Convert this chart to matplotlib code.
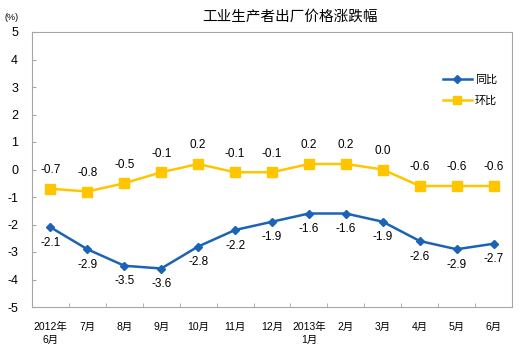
import matplotlib
matplotlib.use('Agg')
import matplotlib.pyplot as plt
import numpy as np

plt.rcParams['font.family'] = ['Liberation Sans', 'Noto Sans CJK SC']

# données
mois = ['2012年\n6月', '7月', '8月', '9月', '10月', '11月', '12月',
        '2013年\n1月', '2月', '3月', '4月', '5月', '6月']
tongbi = [-2.1, -2.9, -3.5, -3.6, -2.8, -2.2, -1.9, -1.6, -1.6, -1.9, -2.6, -2.9, -2.7]
huanbi = [-0.7, -0.8, -0.5, -0.1, 0.2, -0.1, -0.1, 0.2, 0.2, 0.0, -0.6, -0.6, -0.6]

bleu = '#1A63B5'
jaune = '#FFC600'
gris = '#A6A6A6'

fig = plt.figure(figsize=(5.22, 3.54), dpi=100)
ax = fig.add_axes([32 / 522, 47 / 354, 480 / 522, 275 / 354])

x = np.arange(len(mois))
ax.plot(x, tongbi, color=bleu, lw=1.8, marker='D', ms=4.5, label='同比')
ax.plot(x, huanbi, color=jaune, lw=1.8, marker='s', ms=6.5, label='环比')

# étiquettes des valeurs
for i, v in enumerate(tongbi):
    ax.annotate(f'{v:.1f}', (i, v), xytext=(0, -7), textcoords='offset points',
                ha='center', va='top', fontsize=8.5)
for i, v in enumerate(huanbi):
    ax.annotate(f'{v:.1f}', (i, v), xytext=(0, 9), textcoords='offset points',
                ha='center', va='bottom', fontsize=8.5)

ax.set_xlim(-0.5, len(mois) - 0.5)
ax.set_ylim(-5, 5)
ax.set_yticks(range(-5, 6))
ax.set_yticklabels([str(t) for t in range(-5, 6)], fontsize=9)
ax.set_xticks(x)
ax.set_xticklabels(mois, fontsize=7.5, va='top', linespacing=1.3)
ax.set_xticks(np.arange(0.5, len(mois) - 0.5, 1), minor=True)
ax.tick_params(axis='x', which='major', length=0, pad=11)
ax.tick_params(axis='x', which='minor', direction='in', length=3, color=gris)
ax.tick_params(axis='y', direction='in', length=3, color=gris, pad=10)
for s in ax.spines.values():
    s.set_color(gris)
    s.set_linewidth(0.8)

leg = ax.legend(loc='upper right', bbox_to_anchor=(0.99, 0.88), frameon=False,
                fontsize=8, handlelength=2.6, labelspacing=0.9, handletextpad=0.3,
                markerscale=0.8)

fig.text(290 / 522, 1 - 17 / 354, '工业生产者出厂价格涨跌幅', ha='center', va='center', fontsize=10.5)
fig.text(12 / 522, 1 - 17 / 354, '(%)', ha='center', va='center', fontsize=6.5)

fig.savefig('out.png', dpi=100)
